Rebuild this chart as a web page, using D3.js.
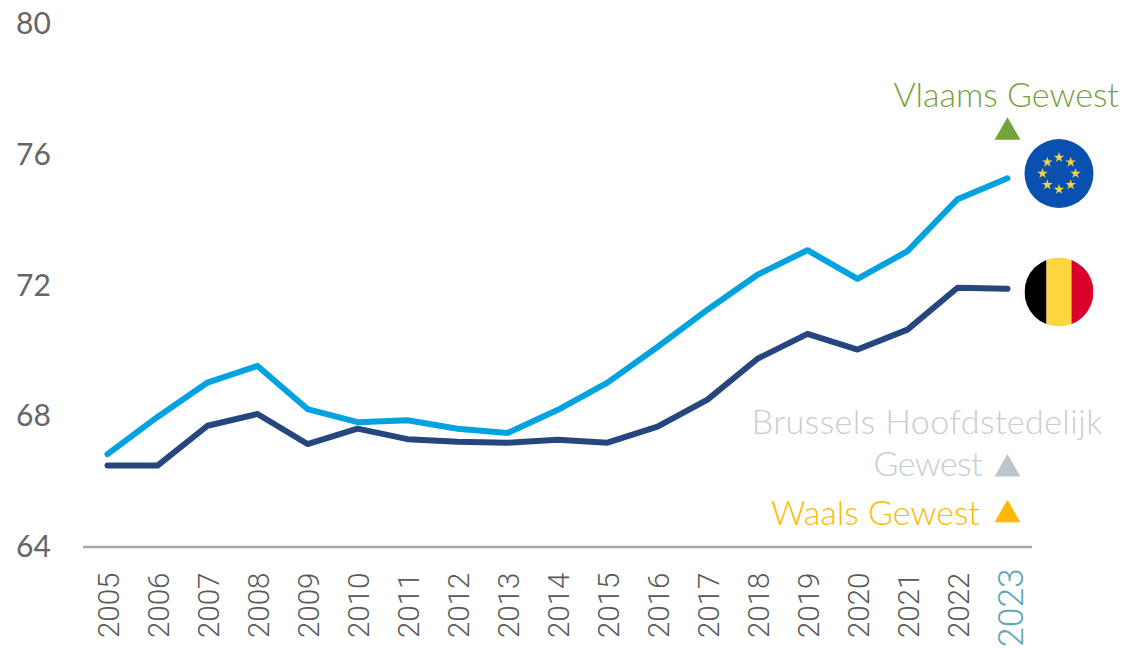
<!DOCTYPE html>
<html><head><meta charset="utf-8">
<script src="https://cdn.jsdelivr.net/npm/d3@7"></script>
<style>html,body{margin:0;padding:0;background:#fff}svg{display:block}text{font-family:Lato,sans-serif;font-weight:300}</style>
</head><body><svg id="c" width="1123" height="648"></svg>
<script>
const years=[2005,2006,2007,2008,2009,2010,2011,2012,2013,2014,2015,2016,2017,2018,2019,2020,2021,2022,2023];
const euValues=[66.84,67.98,69.03,69.54,68.22,67.82,67.88,67.62,67.49,68.19,69.03,70.12,71.26,72.33,73.08,72.2,73.05,74.64,75.28];
const beValues=[66.49,66.49,67.71,68.07,67.15,67.62,67.3,67.22,67.19,67.28,67.19,67.68,68.51,69.76,70.52,70.04,70.65,71.93,71.9];
const yTicks=[64,68,72,76,80];
const regionNames=["Vlaams Gewest","Brussels Hoofdstedelijk Gewest","Waals Gewest"];
const regionValues=[76.75,66.45,65.05];
const regionColors=["#76a23a","#bcc5ca","#ffb900"];

const svg=d3.select("#c");
const x=d3.scaleLinear().domain([2005,2023]).range([107.5,1007.5]);
const y=d3.scaleLinear().domain([64,80]).range([547,24]);

svg.append("line").attr("x1",83).attr("x2",1032).attr("y1",y(64)).attr("y2",y(64)).attr("stroke","#a6a6a6").attr("stroke-width",2.5);

svg.selectAll(".yt").data(yTicks).join("text").attr("x",16).attr("y",d=>y(d)+10)
 .attr("font-size",30).style("font-weight",400).attr("fill","#666").text(d=>d);

svg.selectAll(".xt").data(years).join("text")
 .attr("transform",d=>`translate(${x(d)+(d===2023?15.5:11.5)},${d===2023?647:638}) rotate(-90)`)
 .attr("font-size",d=>d===2023?35.5:29.5)
 .attr("fill",d=>d===2023?"#62a7bb":"#595959")
 .style("font-family","Roboto,sans-serif").text(d=>d);

const line=d3.line().x((d,i)=>x(years[i])).y(d=>y(d));
[[euValues,"#00a3e0"],[beValues,"#25477d"]].forEach(([v,c])=>{
 svg.append("path").attr("d",line(v)).attr("fill","none").attr("stroke",c).attr("stroke-width",6)
  .attr("stroke-linecap","round").attr("stroke-linejoin","round");
});

// region markers
svg.selectAll(".tri").data(regionValues).join("path")
 .attr("d",d3.symbol(d3.symbolTriangle,290))
 .attr("transform",d=>`translate(${x(2023)},${y(d)+2})`)
 .attr("fill",(d,i)=>regionColors[i]);

const T=(t,xp,yp,c,ls)=>svg.append("text").attr("x",xp).attr("y",yp).attr("text-anchor","end").attr("font-size",34).style("letter-spacing",ls+"px").attr("fill",c).text(t);
T(regionNames[0],1119,107,regionColors[0],0);
T("Brussels Hoofdstedelijk",1103,434,"#c6ced2",0.45);
T("Gewest",982,476,"#c6ced2",-0.6);
T(regionNames[2],980,525,regionColors[2],0);

// flags
const defs=svg.append("defs");
const fx=1059,r=34.5;
const euY=173.5, beY=292;
defs.append("clipPath").attr("id","be").append("circle").attr("cx",fx).attr("cy",beY).attr("r",r);
const flag=svg.append("g").attr("clip-path","url(#be)");
flag.append("rect").attr("x",fx-r).attr("y",beY-r).attr("width",22).attr("height",2*r).attr("fill","#000");
flag.append("rect").attr("x",fx-r+22).attr("y",beY-r).attr("width",25).attr("height",2*r).attr("fill","#fdd63f");
flag.append("rect").attr("x",fx-r+47).attr("y",beY-r).attr("width",22).attr("height",2*r).attr("fill","#d9002b");
svg.append("circle").attr("cx",fx).attr("cy",euY).attr("r",r).attr("fill","#0a50b0");
svg.selectAll(".star").data(d3.range(8)).join("path")
 .attr("d",d3.symbol(d3.symbolStar,34))
 .attr("fill","#f4d53f")
 .attr("transform",d=>{const a=d/8*2*Math.PI;return `translate(${fx+16.5*Math.sin(a)},${euY-16*Math.cos(a)})`;});
</script></body></html>
